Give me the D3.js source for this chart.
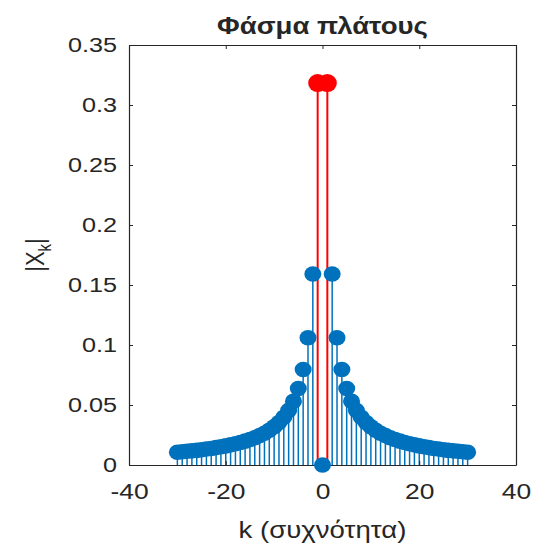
<!DOCTYPE html>
<html>
<head>
<meta charset="utf-8">
<script src="https://cdn.jsdelivr.net/npm/d3@7"></script>
<style>
  body { margin: 0; background: #fff; }
  svg { display: block; }
  text { font-family: "Liberation Sans", Arial, sans-serif; fill: #262626; }
</style>
</head>
<body>
<div id="chart"></div>
<script>
// harmonic index k and magnitude |X_k|
const kValues = [-30, -29, -28, -27, -26, -25, -24, -23, -22, -21, -20, -19, -18, -17, -16, -15, -14, -13, -12, -11,
                 -10, -9, -8, -7, -6, -5, -4, -3, -2, -1, 0, 1, 2, 3, 4, 5, 6, 7, 8, 9, 10,
                 11, 12, 13, 14, 15, 16, 17, 18, 19, 20, 21, 22, 23, 24, 25, 26, 27, 28, 29, 30];
const magnitudes = [0.0106, 0.0110, 0.0114, 0.0118, 0.0122, 0.0127, 0.0133, 0.0138, 0.0145, 0.0152,
                    0.0159, 0.0168, 0.0177, 0.0187, 0.0199, 0.0212, 0.0227, 0.0245, 0.0265, 0.0289,
                    0.0318, 0.0354, 0.0398, 0.0455, 0.0531, 0.0637, 0.0796, 0.1061, 0.1592, 0.3183,
                    0,
                    0.3183, 0.1592, 0.1061, 0.0796, 0.0637, 0.0531, 0.0455, 0.0398, 0.0354, 0.0318,
                    0.0289, 0.0265, 0.0245, 0.0227, 0.0212, 0.0199, 0.0187, 0.0177, 0.0168, 0.0159,
                    0.0152, 0.0145, 0.0138, 0.0133, 0.0127, 0.0122, 0.0118, 0.0114, 0.0110, 0.0106];
// highlighted fundamental
const kHighlight = [-1, 1];
const magHighlight = [0.3183, 0.3183];

const xTicks = [-40, -20, 0, 20, 40];
const yTicks = [0, 0.05, 0.1, 0.15, 0.2, 0.25, 0.3, 0.35];

const title = "Φάσμα πλάτους";
const xLabel = "k (συχνότητα)";

const W = 534, H = 546;
const margin = {top: 45, right: 18, bottom: 81, left: 129};
const width = W - margin.left - margin.right;
const height = H - margin.top - margin.bottom;
const SX = 1.2; // picture is a bit wider than tall

const blue = "#0072BD", red = "#FF0000";

const svg = d3.select("#chart").append("svg")
    .attr("width", W)
    .attr("height", H);

const g = svg.append("g")
    .attr("transform", "translate(" + margin.left + "," + margin.top + ")");

const x = d3.scaleLinear().domain([-40, 40]).range([0, width]);
const y = d3.scaleLinear().domain([0, 0.35]).range([height, 0]);

// blue stems
const blueData = kValues.map((k, i) => ({k: k, v: magnitudes[i]})).filter(d => kHighlight.indexOf(d.k) < 0);
g.selectAll(".stem-blue")
    .data(blueData)
    .enter().append("line")
    .attr("x1", d => x(d.k)).attr("x2", d => x(d.k))
    .attr("y1", y(0)).attr("y2", d => y(d.v))
    .attr("stroke", blue).attr("stroke-width", 1.5);

// red stems
const redData = kHighlight.map((k, i) => ({k: k, v: magHighlight[i]}));
g.selectAll(".stem-red")
    .data(redData)
    .enter().append("line")
    .attr("x1", d => x(d.k)).attr("x2", d => x(d.k))
    .attr("y1", y(0)).attr("y2", d => y(d.v))
    .attr("stroke", red).attr("stroke-width", 2);

// axes box with inward ticks
const tickLen = 4;
const axisBottom = g.append("g").attr("transform", "translate(0," + height + ")")
    .call(d3.axisBottom(x).tickValues(xTicks).tickSizeInner(-tickLen).tickSizeOuter(0).tickPadding(18)
        .tickFormat(d => String(d)));
const axisTop = g.append("g")
    .call(d3.axisTop(x).tickValues(xTicks).tickSizeInner(-tickLen).tickSizeOuter(0).tickFormat(""));
const axisLeft = g.append("g")
    .call(d3.axisLeft(y).tickValues(yTicks).tickSizeInner(-tickLen).tickSizeOuter(0).tickPadding(12)
        .tickFormat(d => String(d)));
const axisRight = g.append("g").attr("transform", "translate(" + width + ",0)")
    .call(d3.axisRight(y).tickValues(yTicks).tickSizeInner(-tickLen).tickSizeOuter(0).tickFormat(""));

[axisBottom, axisTop, axisLeft, axisRight].forEach(a => {
    a.select(".domain").attr("stroke", "#262626").attr("stroke-width", 1.2);
    a.selectAll(".tick line").attr("stroke", "#262626");
});
axisBottom.selectAll("text").attr("font-size", 22).attr("fill", "#262626")
    .attr("font-family", "Liberation Sans, Arial, sans-serif")
    .attr("transform", "scale(" + SX + ",1)");
axisLeft.selectAll("text").attr("font-size", 21).attr("fill", "#262626")
    .attr("font-family", "Liberation Sans, Arial, sans-serif")
    .attr("x", -12 / SX)
    .attr("transform", "scale(" + SX + ",1)");

// markers drawn over stems
g.selectAll(".mk-blue")
    .data(blueData)
    .enter().append("ellipse")
    .attr("cx", d => x(d.k)).attr("cy", d => y(d.v))
    .attr("rx", 8.5).attr("ry", 7.8)
    .attr("fill", blue);

g.selectAll(".mk-red")
    .data(redData)
    .enter().append("ellipse")
    .attr("cx", d => x(d.k)).attr("cy", d => y(d.v))
    .attr("rx", 9.5).attr("ry", 9)
    .attr("fill", red);

// title
svg.append("text")
    .attr("transform", "translate(" + (margin.left + width / 2) + ",34) scale(" + SX + ",1)")
    .attr("text-anchor", "middle")
    .attr("font-size", 23).attr("font-weight", "bold")
    .attr("fill", "#000")
    .text(title);

// x label
svg.append("text")
    .attr("transform", "translate(" + (margin.left + width / 2) + ",538) scale(" + SX + ",1)")
    .attr("text-anchor", "middle")
    .attr("font-size", 23)
    .text(xLabel);

// y label |X_k|
const yl = svg.append("text")
    .attr("transform", "translate(44," + (margin.top + height / 2) + ") rotate(-90) scale(1," + SX + ")")
    .attr("text-anchor", "middle")
    .attr("font-size", 22);
yl.append("tspan").text("|X");
yl.append("tspan").attr("font-size", 15).attr("dy", 6).text("k");
yl.append("tspan").attr("dy", -6).text("|");
</script>
</body>
</html>
